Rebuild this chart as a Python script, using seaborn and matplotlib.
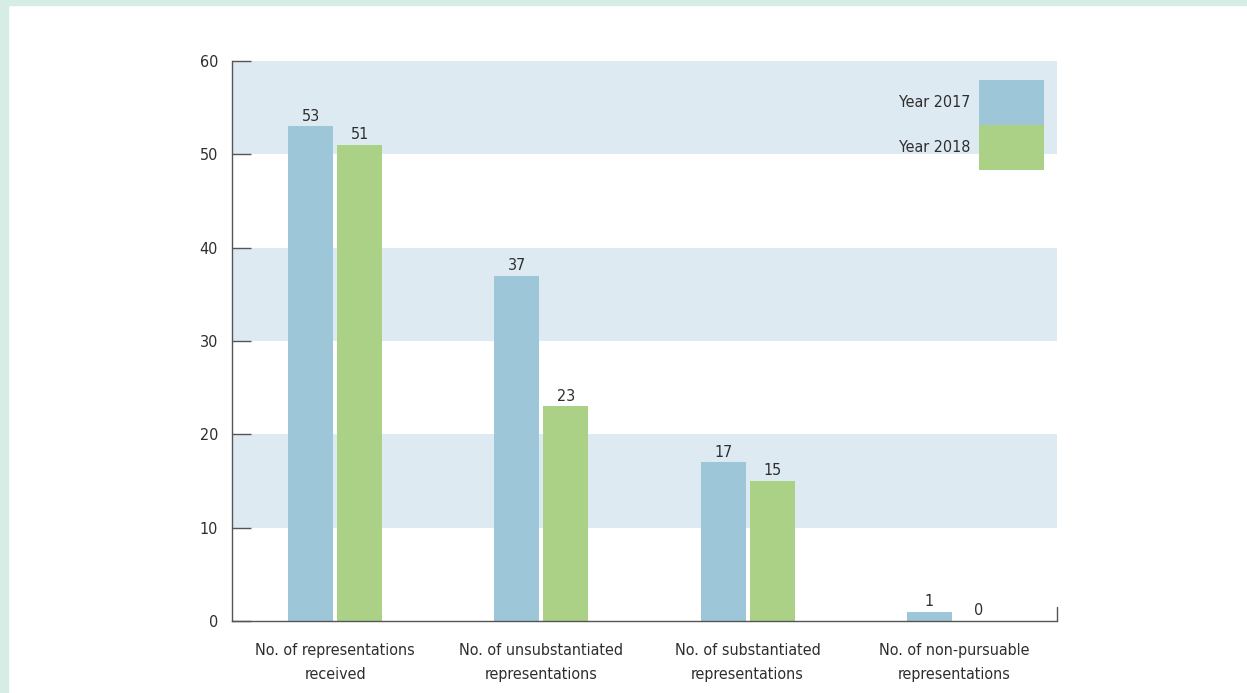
import numpy as np
import pandas as pd
import matplotlib
matplotlib.use('Agg')
import matplotlib.pyplot as plt
import matplotlib.patches as mpatches
import seaborn as sns

categories = [
    'No. of representations\nreceived',
    'No. of unsubstantiated\nrepresentations',
    'No. of substantiated\nrepresentations',
    'No. of non-pursuable\nrepresentations',
]
years = ['Year 2017', 'Year 2018']
values_2017 = [53, 37, 17, 1]
values_2018 = [51, 23, 15, 0]
y_ticks = [0, 10, 20, 30, 40, 50, 60]

colors = ['#9dc6d8', '#aad186']
band_color = '#deeaf2'
text_color = '#2e2e2e'

df = pd.DataFrame({
    'category': categories * 2,
    'year': [years[0]] * 4 + [years[1]] * 4,
    'value': values_2017 + values_2018,
})

sns.set_style('white')
plt.rcParams['font.family'] = ['DejaVu Sans']
plt.rcParams['font.stretch'] = 'condensed'

fig = plt.figure(figsize=(12.47, 6.93), dpi=100)
ax = fig.add_axes([232 / 1247, 1 - 621 / 693, 825 / 1247, 560 / 693])

# mint border strips
fig.patches.append(mpatches.Rectangle((0, 0), 8 / 1247, 1, transform=fig.transFigure,
                                      color='#d6ede6', zorder=0))
fig.patches.append(mpatches.Rectangle((0, 1 - 5 / 693), 1, 5 / 693, transform=fig.transFigure,
                                      color='#d6ede6', zorder=0))

# horizontal bands
for lo in (10, 30, 50):
    ax.axhspan(lo, lo + 10, color=band_color, lw=0, zorder=0)

sns.barplot(data=df, x='category', y='value', hue='year', palette=colors,
            width=0.475, gap=0.08, saturation=1, linewidth=0, ax=ax, zorder=2,
            legend=False)

for cont in ax.containers:
    ax.bar_label(cont, padding=2, fontsize=11.5, color=text_color)

ax.set_ylim(0, 60)
ax.set_xlim(-0.5, 3.5)
ax.set_yticks(y_ticks)
ax.set_xlabel('')
ax.set_ylabel('')
ax.tick_params(axis='y', direction='in', length=14, width=1, color='#555555',
               labelsize=11.5, labelcolor=text_color, pad=10, left=True)
ax.tick_params(axis='x', length=0, labelsize=11.5, labelcolor=text_color, pad=16)
for lbl in ax.get_xticklabels():
    lbl.set_linespacing(1.75)
for s in ('top', 'right'):
    ax.spines[s].set_visible(False)
for s in ('left', 'bottom'):
    ax.spines[s].set_color('#555555')
    ax.spines[s].set_linewidth(1)
ax.axvline(3.5, ymin=0, ymax=0.025, color='#555555', lw=1, clip_on=False)

handles = [mpatches.Patch(color=c, lw=0) for c in colors]
ax.legend(handles, years, loc='upper right', bbox_to_anchor=(0.984, 0.966),
          frameon=False, markerfirst=False, fontsize=11.5, labelcolor=text_color,
          handlelength=4.05, handleheight=3.95, labelspacing=0, handletextpad=0.55,
          borderpad=0, borderaxespad=0)

fig.savefig('out.png', dpi=100)
